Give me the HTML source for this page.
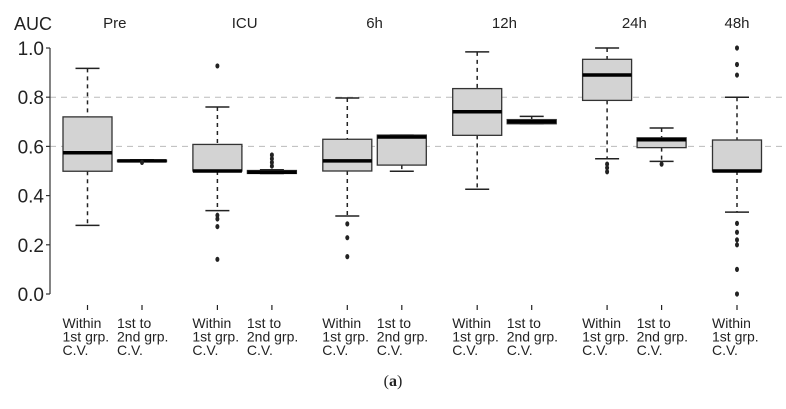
<!DOCTYPE html>
<html><head><meta charset="utf-8"><style>
body{margin:0;background:#fff;}
svg{display:block;font-family:"Liberation Sans",sans-serif;}
</style></head><body>
<svg id="chart" width="786" height="409"></svg>
<script>
const groups=["Pre","ICU","6h","12h","24h","48h"];
const kinds=["within","between"];
// each: [group index, kind index, low whisker, Q1, median, Q3, high whisker]
const boxStats=[
 [0,0,0.279,0.499,0.574,0.72,0.917],
 [0,1,0.54,0.538,0.541,0.544,0.545],
 [1,0,0.339,0.5,0.5,0.608,0.76],
 [1,1,0.49,0.49,0.495,0.502,0.505],
 [2,0,0.317,0.5,0.541,0.629,0.797],
 [2,1,0.499,0.524,0.638,0.646,0.646],
 [3,0,0.426,0.645,0.741,0.835,0.984],
 [3,1,0.692,0.692,0.700,0.709,0.722],
 [4,0,0.55,0.787,0.89,0.954,1.0],
 [4,1,0.539,0.595,0.627,0.635,0.675],
 [5,0,0.333,0.5,0.5,0.626,0.8]
];
const outlierBox=[1,2,2,2,2,2,3,3,3,3,4,4,4,8,8,8,9,10,10,10,10,10,10,10,10,10];
const outlierVal=[0.535,0.927,0.32,0.305,0.274,0.141,0.52,0.535,0.55,0.565,0.285,0.229,0.152,0.528,0.513,0.497,0.528,1.0,0.933,0.89,0.287,0.251,0.22,0.2,0.1,0.0];
const yTicks=[0,0.2,0.4,0.6,0.8,1.0];
const yTickLabels=["0.0","0.2","0.4","0.6","0.8","1.0"];
const gridVals=[0.6,0.8];

const svg=document.getElementById('chart');
const NS='http://www.w3.org/2000/svg';
const y=v=>294-v*246;
const xc=(g,k)=>87.5+g*129.9+k*54.5;
function mk(tag,attrs,parent){const e=document.createElementNS(NS,tag);for(const a in attrs)e.setAttribute(a,attrs[a]);(parent||svg).appendChild(e);return e;}

gridVals.forEach(v=>{
 const l=mk('line',{x1:50,x2:786,y1:y(v),y2:y(v),stroke:'#bbb','stroke-width':1,'stroke-dasharray':'6,5'});
 
 
});
const ax=mk('line',{x1:50,x2:50,y1:y(1),y2:y(0),stroke:'#333','stroke-width':1.2});


yTicks.forEach((v,i)=>{
 mk('line',{x1:46,x2:50,y1:y(v),y2:y(v),stroke:'#333','stroke-width':1.2});
 const t=mk('text',{x:44,y:y(v)+7,'text-anchor':'end','font-size':19,fill:'#222'});
 t.textContent=yTickLabels[i];
 
 
});
const auc=mk('text',{x:14,y:30,'font-size':18,fill:'#222'});
auc.textContent='AUC';



groups.forEach((g,i)=>{
 const cx= i<5 ? (xc(i,0)+xc(i,1))/2 : xc(i,0);
 const t=mk('text',{x:cx,y:28,'text-anchor':'middle','font-size':15,fill:'#222'});
 t.textContent=g;
 
 
});

boxStats.forEach(s=>{
 const [g,k,lo,q1,md,q3,hi]=s;
 const c=xc(g,k),w=49,cap=12;
 const grp=mk('g',{});
 
 
 mk('line',{x1:c,x2:c,y1:y(hi),y2:y(q3),stroke:'#222','stroke-width':1.5,'stroke-dasharray':'4,4'},grp);
 mk('line',{x1:c,x2:c,y1:y(q1),y2:y(lo),stroke:'#222','stroke-width':1.5,'stroke-dasharray':'4,4'},grp);
 mk('line',{x1:c-cap,x2:c+cap,y1:y(hi),y2:y(hi),stroke:'#222','stroke-width':1.5},grp);
 mk('line',{x1:c-cap,x2:c+cap,y1:y(lo),y2:y(lo),stroke:'#222','stroke-width':1.5},grp);
 mk('rect',{x:c-w/2,y:y(q3),width:w,height:Math.max(0.5,y(q1)-y(q3)),fill:'#d3d3d3',stroke:'#333','stroke-width':1.3},grp);
 mk('line',{x1:c-w/2,x2:c+w/2,y1:y(md),y2:y(md),stroke:'#000','stroke-width':3.5},grp);
});
outlierBox.forEach((b,i)=>{
 const s=boxStats[b];
 const p=mk('ellipse',{cx:xc(s[0],s[1]),cy:y(outlierVal[i]),rx:2,ry:2.6,fill:'#222'});
 
 
});
boxStats.forEach(s=>{
 const c=xc(s[0],s[1]);
 mk('line',{x1:c,x2:c,y1:305,y2:310,stroke:'#222','stroke-width':1.2});
 const lines= s[1]===0?["Within","1st grp.","C.V."]:["1st to","2nd grp.","C.V."];
 const t=mk('text',{x:c-25,y:328,'font-size':14,fill:'#222'});
 
 
 lines.forEach((ln,j)=>{const ts=mk('tspan',{x:c-25,y:328+j*13.5},t);ts.textContent=ln;});
});
const cap=mk('text',{x:393,y:386,'text-anchor':'middle','font-size':16,fill:'#222','font-family':'Liberation Serif, serif'});
cap.innerHTML='(<tspan font-weight="bold">a</tspan>)';


</script>
</body></html>
